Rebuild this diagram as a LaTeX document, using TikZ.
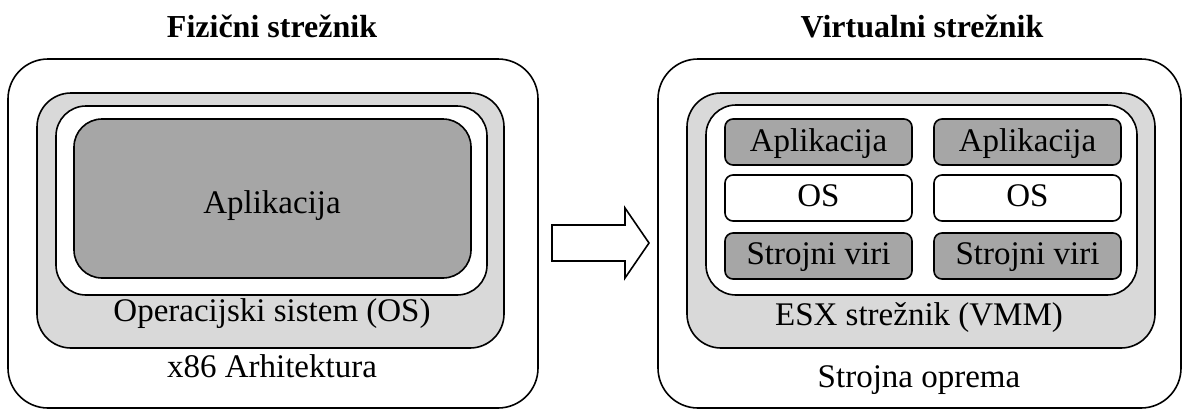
\documentclass[tikz,border=0pt]{standalone}
\usepackage{fontspec}
\setmainfont{Liberation Serif}
\definecolor{appgray}{HTML}{A6A6A6}
\definecolor{layergray}{HTML}{D9D9D9}
\tikzset{
  panel/.style={draw=black, line width=1.6pt, rounded corners=40pt, fill=white},
  layer/.style={draw=black, line width=1.6pt, rounded corners=34pt, fill=layergray},
  inner/.style={draw=black, line width=1.6pt, rounded corners=30pt, fill=white},
  bigapp/.style={draw=black, line width=1.6pt, rounded corners=28pt, fill=appgray},
  vmbox/.style={draw=black, line width=1.6pt, rounded corners=8pt},
  darkvm/.style={vmbox, fill=appgray},
  lightvm/.style={vmbox, fill=white},
  lbl/.style={anchor=base, inner sep=0pt, font=\fontsize{33}{36}\selectfont},
  ttl/.style={anchor=base, inner sep=0pt, font=\fontsize{32}{36}\selectfont\bfseries},
  bigarrow/.style={draw=black, line width=1.6pt, fill=white, line join=miter}
}
\begin{document}
\begin{tikzpicture}[x=1pt, y=-1pt]
\useasboundingbox (0,0) rectangle (1183,410);

% physical server
\node[ttl] (t1) at (272,37) {Fizični strežnik};
\draw[panel] (8,59) rectangle (538,408);
\coordinate (p1) at (273,234);
\draw[layer] (37,93) rectangle (504,348);
\draw[inner] (56,106) rectangle (487,295);
\draw[bigapp] (74,119) rectangle (471,278);
\node[lbl] (app) at (272,213) {Aplikacija};
\node[lbl] (os) at (272,321) {Operacijski sistem (OS)};
\node[lbl] (hw1) at (272,377) {x86 Arhitektura};

% virtual server
\node[ttl] (t2) at (922,37) {Virtualni strežnik};
\draw[panel] (658,59) rectangle (1181,408);
\draw[layer] (687,93) rectangle (1155,348);
\draw[inner] (706,105) rectangle (1137,295);

\foreach \n/\xa/\xb in {a/725/912, b/934/1121}{
  \draw[darkvm] (\xa,119) rectangle (\xb,165);
  \draw[lightvm] (\xa,175) rectangle (\xb,221);
  \draw[darkvm] (\xa,233) rectangle (\xb,279);
  \node[lbl] (app\n) at ({(\xa+\xb)/2},151) {Aplikacija};
  \node[lbl] (os\n) at ({(\xa+\xb)/2},206) {OS};
  \node[lbl] (res\n) at ({(\xa+\xb)/2},264) {Strojni viri};
}
\node[lbl] (esx) at (919,325) {ESX strežnik (VMM)};
\node[lbl] (hw2) at (919,387) {Strojna oprema};

% transition arrow
\coordinate (a0) at (552,243);
\draw[bigarrow] (a0) ++(0,-18) -- ++(73,0) -- ++(0,-17) -- (649,243)
  -- (625,278) -- ++(0,-17) -- ++(-73,0) -- cycle;
\end{tikzpicture}
\end{document}
